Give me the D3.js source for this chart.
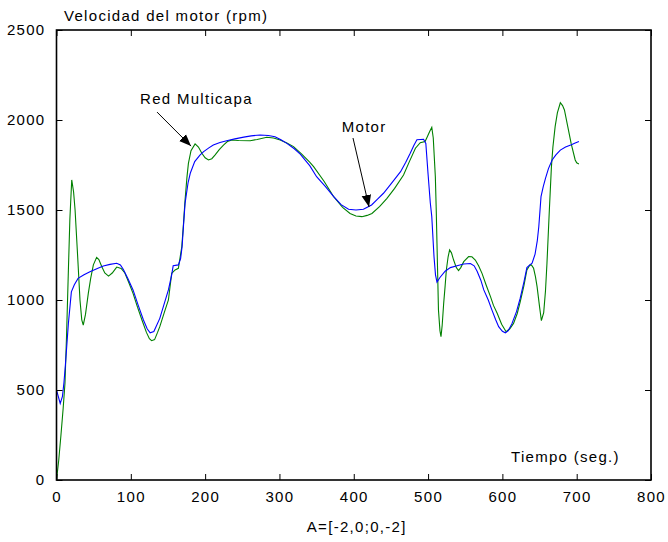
<!DOCTYPE html>
<html>
<head>
<meta charset="utf-8">
<script src="https://cdn.jsdelivr.net/npm/d3@7"></script>
<style>
  body { margin: 0; background: #fff; }
  text { font-family: Arial, "Liberation Sans", sans-serif; font-size: 15px; letter-spacing: 1.3px; fill: #000; }
</style>
</head>
<body>
<script>
// tick values
var xTicks = [0, 100, 200, 300, 400, 500, 600, 700, 800],
    yTicks = [0, 500, 1000, 1500, 2000, 2500];

// motor speed (blue), [time, rpm]
var motor = [
  [0,500],[2,470],[5,425],[8,465],[10,540],[12,640],[16,870],[20,1045],[24,1085],[29,1120],
  [37,1140],[45,1157],[55,1175],[63,1189],[72,1198],[81,1204],[86,1195],[90,1170],[96,1120],
  [103,1056],[110,970],[117,889],[122,840],[126,818],[131,825],[139,898],[145,980],[150.6,1056],
  [155,1140],[157,1190],[164,1195],[167,1230],[169,1296],[171,1420],[173,1537],[177,1650],
  [180,1704],[186,1769],[193,1805],[198,1824],[205,1845],[211,1861],[220,1875],[229,1885],
  [240,1895],[252,1905],[262,1912],[274,1917],[285,1914],[294,1907],[302,1890],[310,1870],
  [320,1840],[328,1810],[341,1745],[350,1685],[362,1630],[373,1574],[383,1530],[393,1504],
  [403,1500],[413,1504],[424,1528],[432,1560],[440,1593],[452,1655],[463,1713],[470,1765],
  [476,1815],[481,1860],[485,1890],[494,1893],[497,1870],[500,1700],[503,1540],[505,1463],
  [508,1241],[510,1140],[512,1100],[516,1125],[523,1160],[530,1180],[539,1190],[548,1200],
  [557,1203],[562,1190],[566,1160],[571,1110],[575,1056],[581,1000],[586,944],[591,890],
  [595,852],[600,826],[604,818],[608,830],[613,870],[619,935],[624,1010],[629,1100],[633,1180],
  [637,1195],[640,1204],[644,1255],[647,1330],[649,1407],[652,1574],[655,1630],[658,1676],
  [662,1730],[667,1778],[672,1806],[678,1833],[685,1850],[692,1861],[698,1872],[703,1880]
];

// neural net output (green), [time, rpm]
var red = [
  [0,0],[3,110],[6,250],[9,400],[11.4,537],[13.5,800],[16,1167],[18,1450],[20.5,1667],[23,1600],
  [25,1500],[28,1278],[31.6,1000],[34,890],[36,861],[39,920],[42.8,1037],[46,1120],[49.6,1195],
  [54,1237],[57,1225],[61,1185],[65,1150],[70,1133],[75,1150],[81,1183],[87,1175],[92,1150],
  [97,1100],[103,1037],[109,960],[115,889],[121,820],[125,785],[128,774],[132,780],[136,820],
  [139,852],[145,930],[150.6,1000],[155,1148],[159.6,1167],[164,1176],[168.6,1296],[171,1430],
  [173,1556],[175.5,1680],[177.5,1759],[181,1830],[186.5,1867],[191,1850],[195.6,1815],[200,1790],
  [204.5,1778],[209,1785],[213.5,1806],[219,1835],[224.7,1861],[230,1880],[236,1889],[245,1886],
  [260.6,1885],[270,1892],[283,1904],[292,1900],[301,1889],[310,1872],[319,1852],[330,1810],
  [341,1765],[346,1741],[360,1660],[373,1574],[385,1515],[395,1481],[403,1467],[411,1463],
  [418,1470],[424.5,1481],[435,1520],[444.7,1565],[455,1620],[467,1694],[475,1770],[483,1843],
  [489.5,1874],[496,1880],[499,1907],[502,1935],[505,1959],[507,1900],[509.8,1685],[511,1500],
  [512,1315],[514,944],[516,830],[517.4,796],[519,860],[521,981],[523,1080],[524.6,1167],
  [527,1240],[529,1278],[531.5,1262],[534.4,1222],[538,1180],[541,1163],[544,1180],[548,1213],
  [554.6,1241],[559,1240],[563.6,1222],[568,1190],[572.6,1148],[578,1085],[584,1019],[588,970],
  [593,926],[599,865],[605,824],[610,840],[615,870],[620,925],[624,990],[629,1080],[633,1167],
  [637,1194],[639,1195],[642,1176],[644.5,1130],[646.7,1074],[650,963],[652.5,885],[655.6,930],
  [658,1050],[660,1204],[663,1481],[666,1741],[668,1850],[671,1963],[674,2040],[678,2096],
  [681,2080],[683.5,2056],[688,1963],[692.5,1870],[698,1778],[700,1762],[703,1756]
];

var width = 668, height = 542;
// plot box edges (can't call it "top", that's window.top)
var boxL = 56.5, boxT = 30, boxR = 651, boxB = 480;

var x = d3.scaleLinear().domain([0, 800]).range([boxL, boxR]);
var y = d3.scaleLinear().domain([0, 2500]).range([boxB, boxT]);

var svg = d3.select('body').append('svg')
  .attr('width', width)
  .attr('height', height);

// lines first so the frame sits on top
var line = d3.line()
  .x(function(d) { return x(d[0]); })
  .y(function(d) { return y(d[1]); });

svg.append('path').datum(red)
  .attr('d', line).attr('fill', 'none')
  .attr('stroke', '#008000').attr('stroke-width', 1.1);

svg.append('path').datum(motor)
  .attr('d', line).attr('fill', 'none')
  .attr('stroke', '#0000ff').attr('stroke-width', 1.1);

// axes, ticks inward on all four sides
var tk = 6, fmt = d3.format('d');
function frame(axis, tx, ty, labels) {
  var g = svg.append('g')
    .attr('transform', 'translate(' + tx + ',' + ty + ')')
    .call(axis);
  g.select('.domain').remove();
  g.selectAll('.tick line').attr('stroke', '#000');
  if (!labels) g.selectAll('.tick text').remove();
  return g;
}

frame(d3.axisBottom(x).tickValues(xTicks).tickFormat(fmt).tickSize(-tk).tickPadding(tk + 5), 0, boxB, true);
frame(d3.axisTop(x).tickValues(xTicks).tickSize(-tk), 0, boxT, false);
frame(d3.axisLeft(y).tickValues(yTicks).tickFormat(fmt).tickSize(-tk).tickPadding(tk + 5), boxL, 0, true);
frame(d3.axisRight(y).tickValues(yTicks).tickSize(-tk), boxR, 0, false);

svg.append('rect')
  .attr('x', boxL).attr('y', boxT)
  .attr('width', boxR - boxL).attr('height', boxB - boxT)
  .attr('fill', 'none').attr('stroke', '#000').attr('stroke-width', 1.6);

// labels
svg.append('text').attr('x', 64).attr('y', 21).text('Velocidad del motor (rpm)');
svg.append('text').attr('x', 511).attr('y', 462).text('Tiempo (seg.)');
svg.append('text').attr('x', (boxL + boxR) / 2 + 3).attr('y', 532)
  .attr('text-anchor', 'middle').text('A=[-2,0;0,-2]');

// annotations with arrows
svg.append('defs').append('marker')
  .attr('id', 'head')
  .attr('viewBox', '0 0 10 10')
  .attr('refX', 10).attr('refY', 5)
  .attr('markerWidth', 12).attr('markerHeight', 12)
  .attr('markerUnits', 'userSpaceOnUse')
  .attr('orient', 'auto')
  .append('path').attr('d', 'M0,1 L10,5 L0,9 Z').attr('fill', '#000');

var notes = [
  { label: 'Red Multicapa', at: [112.4, 2089], from: [135.3, 2044], to: [181, 1855] },
  { label: 'Motor', at: [383.8, 1935], from: [399, 1900], to: [420.6, 1517] }
];

notes.forEach(function(n) {
  svg.append('text').attr('x', x(n.at[0])).attr('y', y(n.at[1])).text(n.label);
  svg.append('line')
    .attr('x1', x(n.from[0])).attr('y1', y(n.from[1]))
    .attr('x2', x(n.to[0])).attr('y2', y(n.to[1]))
    .attr('stroke', '#000').attr('stroke-width', 1)
    .attr('marker-end', 'url(#head)');
});
</script>
</body>
</html>
